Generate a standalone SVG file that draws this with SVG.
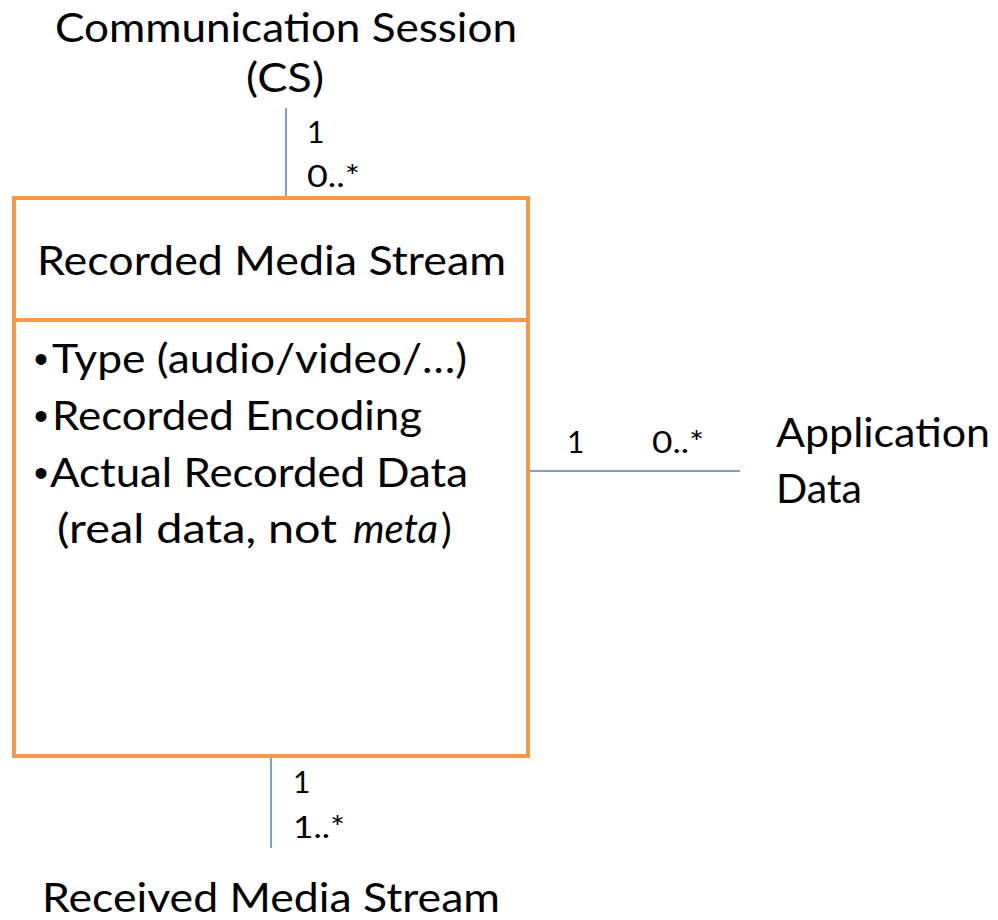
<svg xmlns="http://www.w3.org/2000/svg" width="998" height="920" viewBox="0 0 998 920">
<style>
text{font-family:Lato,"Liberation Sans",sans-serif;fill:#000}
.big{font-size:40px}
.sm{font-size:30px}
.bul{font-family:"Liberation Sans",sans-serif;font-size:40px}
.conn{stroke:#4F81BD;stroke-width:1.5;fill:none}
.box{fill:#fff;stroke:#F79646;stroke-width:4}
</style>
<rect width="998" height="920" fill="#fff"/>
<g id="connectors">
<line class="conn" x1="286" y1="108" x2="286" y2="197"/>
<line class="conn" x1="530" y1="471" x2="740" y2="471"/>
<line class="conn" x1="271" y1="758" x2="271" y2="848"/>
</g>
<g id="labels">
<text class="sm" x="307" y="143">1</text>
<text class="sm" x="307" y="187" textLength="53" lengthAdjust="spacingAndGlyphs">0..*</text>
<text class="sm" x="567" y="453">1</text>
<text class="sm" x="652" y="453" textLength="52" lengthAdjust="spacingAndGlyphs">0..*</text>
<text class="sm" x="293" y="793">1</text>
<text class="sm" x="293" y="838" textLength="52" lengthAdjust="spacingAndGlyphs">1..*</text>
</g>
<g id="node-cs">
<text class="big" x="55" y="42" textLength="462" lengthAdjust="spacingAndGlyphs">Communication Session</text>
<text class="big" x="246" y="92" textLength="78" lengthAdjust="spacingAndGlyphs">(CS)</text>
</g>
<g id="node-rms">
<rect class="box" x="14" y="198" width="514" height="558"/>
<line x1="14" y1="320" x2="528" y2="320" stroke="#F79646" stroke-width="4"/>
<text class="big" x="37" y="275" textLength="469" lengthAdjust="spacingAndGlyphs">Recorded Media Stream</text>
<text class="bul" x="34" y="373">•</text>
<text class="big" x="52" y="373" textLength="415" lengthAdjust="spacingAndGlyphs">Type (audio/video/…)</text>
<text class="bul" x="34" y="430">•</text>
<text class="big" x="52" y="430" textLength="370" lengthAdjust="spacingAndGlyphs">Recorded Encoding</text>
<text class="bul" x="34" y="487">•</text>
<text class="big" x="50" y="487" textLength="418" lengthAdjust="spacingAndGlyphs">Actual Recorded Data</text>
<text class="big" x="57" y="543" textLength="280" lengthAdjust="spacingAndGlyphs">(real data, not</text>
<text class="big" x="353" y="543" font-style="italic" textLength="85" lengthAdjust="spacingAndGlyphs">meta</text>
<text class="big" x="441" y="543">)</text>
</g>
<g id="node-app">
<text class="big" x="776" y="447" textLength="214" lengthAdjust="spacingAndGlyphs">Application</text>
<text class="big" x="776" y="503" textLength="86" lengthAdjust="spacingAndGlyphs">Data</text>
</g>
<g id="node-received">
<text class="big" x="42" y="912" textLength="458" lengthAdjust="spacingAndGlyphs">Received Media Stream</text>
</g>
</svg>
